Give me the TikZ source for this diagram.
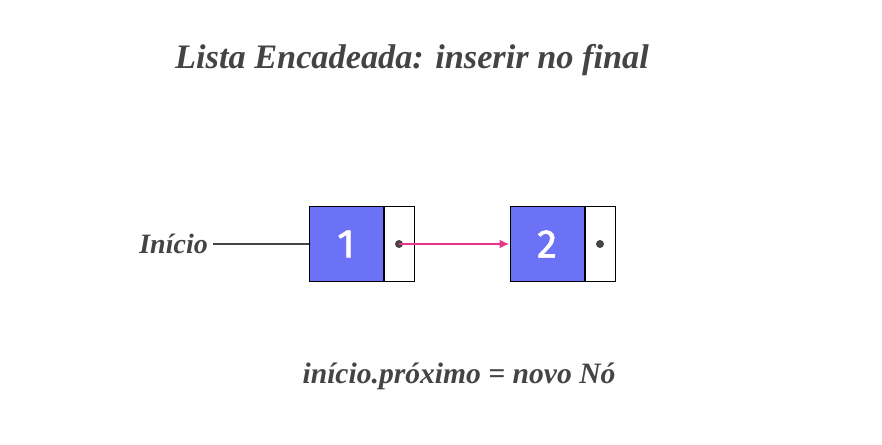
\documentclass[tikz,border=0pt]{standalone}
\usepackage{fontspec}
\usetikzlibrary{arrows.meta}
\setmainfont{Liberation Serif}
\newfontfamily\numfont[FakeBold=1.5]{Fira Sans}
\begin{document}
\definecolor{nodeblue}{HTML}{6C72F6}
\definecolor{txtgray}{HTML}{444444}
\definecolor{linkpink}{HTML}{E8358A}
\begin{tikzpicture}[x=1pt,y=-1pt,
  databox/.style={draw=black,fill=nodeblue,line width=1pt,minimum width=74pt,minimum height=75pt,inner sep=0pt,text=white,font=\numfont\fontsize{40}{40}\selectfont},
  ptrbox/.style={draw=black,fill=white,line width=1pt,minimum width=30pt,minimum height=75pt,inner sep=0pt},
  dotmark/.style={circle,fill=txtgray,inner sep=0pt,minimum size=8pt},
  lbl/.style={text=txtgray,font=\bfseries\itshape},
]
\useasboundingbox (0,0) rectangle (882,444);
\node[text=txtgray,font=\bfseries\itshape\fontsize{34.3}{34}\selectfont,anchor=base] (title) at (412,68) {Lista Encadeada: inserir no final};
\node[databox] (d1) at (346,244) {1};
\node[ptrbox,anchor=west] (p1) at (d1.east) {};
\node[databox] (d2) at (547,244) {2};
\node[ptrbox,anchor=west] (p2) at (d2.east) {};
\node[dotmark] (c1) at (p1.center) {};
\node[dotmark] (c2) at (p2.center) {};
\node[lbl,font=\bfseries\itshape\fontsize{28}{28}\selectfont,anchor=east,inner sep=0pt] (inicio) at (208,244) {Início};
\draw[txtgray,line width=2pt] ([xshift=5pt]inicio.east) -- (d1.west);
\draw[linkpink,line width=2pt,-{Latex[length=10pt,width=9pt]}] (c1.center) -- (d2.west);
\node[lbl,font=\bfseries\itshape\fontsize{29.6}{30}\selectfont,anchor=base] (expr) at (459,383) {início.próximo = novo Nó};
\end{tikzpicture}
\end{document}
